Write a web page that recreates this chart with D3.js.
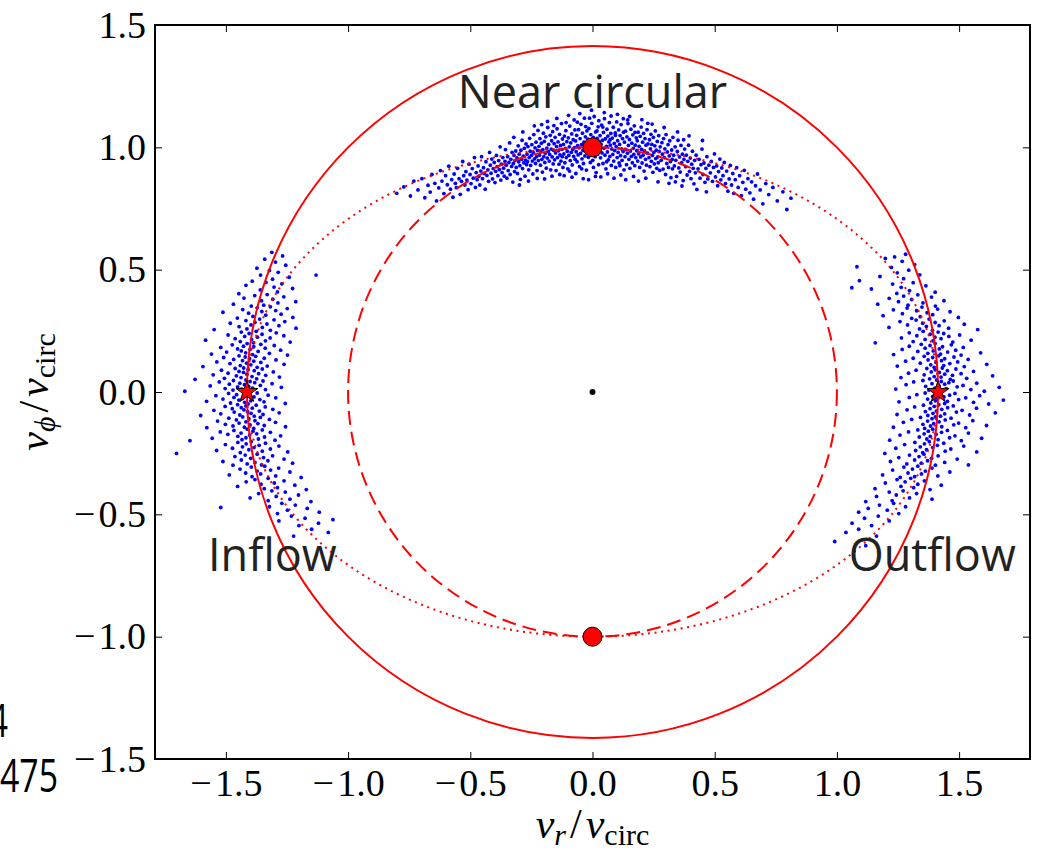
<!DOCTYPE html>
<html>
<head>
<meta charset="utf-8">
<script src="https://cdn.jsdelivr.net/npm/d3@7"></script>
<style>
  body { margin: 0; background: #fff; }
  svg { display: block; }
</style>
</head>
<body>
<svg id="chart"></svg>
<script>
// axis limits and ticks
const xLim = [-1.79, 1.79];
const yLim = [-1.5, 1.5];
const xTicks = [-1.5, -1.0, -0.5, 0.0, 0.5, 1.0, 1.5];
const yTicks = [-1.5, -1.0, -0.5, 0.0, 0.5, 1.0, 1.5];

// reference curves (in units of v_circ)
const solidRadius = 1.414;
const dashedRadius = 1.0;
const dottedRadii = [1.414, 1.0];

// markers
const circleMarkers = [[0, 1], [0, -1]];
const starMarkers = [[-1.414, 0], [1.414, 0]];
const originMarker = [[0, 0]];

// annotations
const annotations = [
  { text: "Near circular", vr: 0.0, vphi: 1.16 },
  { text: "Inflow", vr: -1.31, vphi: -0.73 },
  { text: "Outflow", vr: 1.39, vphi: -0.73 }
];

// particle velocities: near circular orbits
const nearCircularPts = [
  [-0.801,0.812],[-0.772,0.838],[-0.745,0.801],[-0.731,0.862],
  [-0.714,0.826],[-0.698,0.872],[-0.686,0.794],[-0.673,0.845],
  [-0.664,0.817],[-0.657,0.889],[-0.645,0.853],[-0.638,0.781],[-0.629,0.834],[-0.622,0.905],
  [-0.616,0.862],[-0.608,0.811],[-0.601,0.884],[-0.594,0.847],[-0.588,0.923],[-0.581,0.829],[-0.576,0.868],[-0.571,0.796],
  [-0.566,0.891],[-0.561,0.853],[-0.557,0.835],[-0.552,0.914],[-0.546,0.872],[-0.541,0.808],[-0.536,0.861],[-0.531,0.942],[-0.527,0.884],[-0.522,0.846],
  [-0.518,0.901],[-0.514,0.866],[-0.509,0.827],[-0.505,0.931],[-0.501,0.889],[-0.497,0.852],[-0.492,0.913],[-0.488,0.874],[-0.483,0.958],[-0.479,0.836],[-0.476,0.897],[-0.472,0.868],
  [-0.468,0.924],[-0.465,0.881],[-0.461,0.846],[-0.457,0.903],[-0.454,0.962],[-0.450,0.872],[-0.446,0.917],[-0.443,0.893],[-0.439,0.829],[-0.436,0.941],[-0.432,0.885],[-0.428,0.908],[-0.425,0.861],[-0.421,0.979],
  [-0.418,0.927],[-0.415,0.894],[-0.412,0.952],[-0.409,0.871],[-0.406,0.913],[-0.402,0.938],[-0.399,0.856],[-0.396,0.902],[-0.393,0.967],[-0.390,0.921],[-0.387,0.884],[-0.384,0.946],[-0.381,0.909],[-0.378,1.002],[-0.375,0.866],[-0.373,0.931],[-0.370,0.897],
  [-0.367,0.958],[-0.364,0.915],[-0.361,0.882],[-0.358,0.943],[-0.356,0.991],[-0.353,0.927],[-0.350,0.874],[-0.347,0.962],[-0.345,0.905],[-0.342,0.938],[-0.339,1.018],[-0.337,0.889],[-0.334,0.951],[-0.331,0.922],[-0.329,0.979],[-0.326,0.858],[-0.324,0.934],[-0.321,0.967],[-0.319,0.901],[-0.322,1.041],
  [-0.317,0.946],[-0.314,0.985],[-0.312,0.918],[-0.309,0.957],[-0.307,0.893],[-0.304,1.006],[-0.302,0.941],[-0.300,0.972],[-0.297,0.925],[-0.295,0.869],[-0.293,0.988],[-0.290,0.951],[-0.288,1.029],[-0.286,0.913],[-0.283,0.964],[-0.281,0.937],[-0.279,0.996],[-0.276,0.882],[-0.274,0.948],[-0.272,1.014],[-0.270,0.929],[-0.285,1.063],[-0.299,0.846],
  [-0.268,0.972],[-0.266,0.941],[-0.264,1.003],[-0.261,0.908],[-0.259,0.958],[-0.257,1.037],[-0.255,0.984],[-0.253,0.926],[-0.250,0.967],[-0.248,1.011],[-0.246,0.944],[-0.244,0.891],[-0.242,0.979],[-0.240,1.052],[-0.237,0.953],[-0.235,0.998],[-0.233,0.934],[-0.231,1.021],[-0.229,0.962],[-0.227,0.905],[-0.225,0.987],[-0.223,1.069],[-0.221,0.946],[-0.262,0.862],[-0.238,1.088],[-0.226,0.873],
  [-0.219,1.004],[-0.217,0.968],[-0.215,1.036],[-0.213,0.927],[-0.211,0.983],[-0.209,1.017],[-0.207,0.951],[-0.205,0.899],[-0.203,0.991],[-0.201,1.058],[-0.199,0.962],[-0.197,1.024],[-0.195,0.938],[-0.193,0.976],[-0.191,1.043],[-0.189,0.915],[-0.187,0.997],[-0.185,0.956],[-0.183,1.081],[-0.181,0.983],[-0.179,1.012],[-0.177,0.944],[-0.175,0.971],[-0.173,1.049],[-0.171,0.908],[-0.196,0.871],[-0.184,1.106],[-0.208,1.093],
  [-0.169,0.993],[-0.167,1.027],[-0.165,0.961],[-0.163,1.064],[-0.161,0.932],[-0.159,0.988],[-0.157,1.015],[-0.155,0.949],[-0.153,1.041],[-0.151,0.977],[-0.149,0.905],[-0.147,1.003],[-0.145,1.076],[-0.143,0.958],[-0.141,1.022],[-0.139,0.986],[-0.137,0.931],[-0.135,1.053],[-0.133,0.969],[-0.131,1.008],[-0.129,0.944],[-0.127,1.097],[-0.125,0.992],[-0.123,1.034],[-0.121,0.918],[-0.166,0.882],[-0.146,1.118],[-0.134,0.889],[-0.158,1.089],[-0.124,0.962],
  [-0.119,1.012],[-0.117,0.973],[-0.115,1.046],[-0.113,0.937],[-0.111,0.996],[-0.109,1.068],[-0.107,0.958],[-0.105,1.023],[-0.103,0.984],[-0.101,0.912],[-0.099,1.039],[-0.097,0.967],[-0.095,1.002],[-0.093,1.087],[-0.091,0.946],[-0.089,1.018],[-0.087,0.979],[-0.085,1.055],[-0.083,0.928],[-0.081,0.991],[-0.079,1.031],[-0.077,0.963],[-0.075,1.112],[-0.073,0.999],[-0.071,0.951],[-0.116,0.884],[-0.098,1.131],[-0.084,0.878],[-0.108,1.101],[-0.072,1.071],[-0.094,0.903],
  [-0.069,1.026],[-0.067,0.982],[-0.065,1.049],[-0.063,0.941],[-0.061,1.007],[-0.059,0.969],[-0.057,1.072],[-0.055,0.998],[-0.053,0.921],[-0.051,1.036],[-0.049,0.975],[-0.047,1.094],[-0.045,1.011],[-0.043,0.953],[-0.041,1.058],[-0.039,0.987],[-0.037,0.934],[-0.035,1.021],[-0.033,1.119],[-0.031,0.965],[-0.029,1.043],[-0.027,0.996],[-0.025,0.907],[-0.023,1.067],[-0.021,0.978],[-0.068,0.893],[-0.052,1.138],[-0.038,0.872],[-0.062,1.103],[-0.028,1.085],[-0.044,0.912],[-0.024,1.014],
  [-0.019,1.033],[-0.017,0.959],[-0.015,1.077],[-0.013,0.991],[-0.011,1.016],[-0.009,0.938],[-0.007,1.052],[-0.005,0.974],[-0.003,1.098],[-0.001,1.008],[0.001,0.947],[0.003,1.041],[0.005,0.983],[0.007,1.126],[0.009,1.019],[0.011,0.962],[0.013,1.063],[0.015,0.897],[0.017,1.002],[0.019,1.037],[0.021,0.971],[0.023,1.084],[0.025,0.929],[0.027,1.024],[0.029,0.989],[-0.016,0.868],[-0.004,1.152],[0.012,0.881],[0.026,1.109],[-0.012,1.119],[0.004,0.918],[0.018,1.067],
  [0.031,1.048],[0.033,0.957],[0.035,1.013],[0.037,1.091],[0.039,0.977],[0.041,1.029],[0.043,0.934],[0.045,1.061],[0.047,0.996],[0.049,1.117],[0.051,0.968],[0.053,1.035],[0.055,0.912],[0.057,1.004],[0.059,1.074],[0.061,0.981],[0.063,1.046],[0.065,0.949],[0.067,1.022],[0.069,1.101],[0.071,0.963],[0.073,1.009],[0.075,1.057],[0.077,0.926],[0.079,0.993],[0.034,0.879],[0.048,1.142],[0.062,0.892],[0.076,1.128],[0.042,1.083],[0.058,0.941],[0.072,1.031],
  [0.081,1.038],[0.083,0.971],[0.085,1.082],[0.087,0.944],[0.089,1.016],[0.091,0.987],[0.093,1.059],[0.095,0.918],[0.097,1.003],[0.099,1.104],[0.101,0.958],[0.103,1.027],[0.105,0.979],[0.107,1.071],[0.109,0.936],[0.111,1.012],[0.113,1.048],[0.115,0.966],[0.117,1.093],[0.119,0.994],[0.121,0.947],[0.123,1.036],[0.125,0.983],[0.127,1.062],[0.129,0.908],[0.088,0.874],[0.102,1.135],[0.116,0.887],[0.126,1.117],[0.094,1.049],[0.112,0.925],
  [0.131,1.021],[0.133,0.962],[0.135,1.066],[0.137,0.991],[0.139,0.929],[0.141,1.043],[0.143,0.976],[0.145,1.097],[0.147,1.008],[0.149,0.951],[0.151,1.032],[0.153,0.914],[0.155,0.985],[0.157,1.074],[0.159,0.963],[0.161,1.017],[0.163,0.937],[0.165,1.051],[0.167,0.996],[0.169,0.971],[0.171,1.088],[0.173,0.925],[0.175,1.009],[0.177,0.958],[0.179,1.039],[0.136,0.868],[0.152,1.126],[0.168,0.881],[0.144,1.112],[0.174,1.061],
  [0.181,0.986],[0.183,1.027],[0.185,0.944],[0.187,1.062],[0.189,0.973],[0.191,1.004],[0.193,0.918],[0.195,1.045],[0.197,0.961],[0.199,1.083],[0.201,0.992],[0.203,0.936],[0.205,1.021],[0.207,0.968],[0.209,1.057],[0.211,0.903],[0.213,0.984],[0.215,1.036],[0.217,0.951],[0.219,1.009],[0.221,0.927],[0.223,1.072],[0.225,0.976],[0.227,1.014],[0.188,0.862],[0.202,1.113],[0.218,0.874],[0.226,1.098],
  [0.231,0.958],[0.233,1.031],[0.235,0.921],[0.237,0.994],[0.239,1.053],[0.241,0.943],[0.243,1.012],[0.245,0.967],[0.247,0.898],[0.249,1.041],[0.251,0.979],[0.253,0.932],[0.255,1.006],[0.257,1.067],[0.259,0.954],[0.261,0.988],[0.263,0.914],[0.265,1.024],[0.267,0.961],[0.269,0.937],[0.271,1.048],[0.273,0.983],[0.275,0.906],[0.277,1.002],[0.244,1.095],[0.268,0.859],
  [0.281,0.947],[0.284,1.019],[0.286,0.972],[0.289,0.911],[0.291,1.036],[0.294,0.958],[0.296,0.994],[0.299,0.889],[0.301,1.052],[0.304,0.934],[0.306,0.981],[0.309,1.011],[0.311,0.918],[0.314,0.965],[0.316,1.027],[0.319,0.942],[0.321,0.876],[0.324,0.989],[0.326,0.951],[0.329,1.041],[0.293,1.081],[0.313,0.853],[0.327,0.912],
  [0.332,0.968],[0.335,0.924],[0.338,1.002],[0.341,0.947],[0.344,0.881],[0.347,0.983],[0.350,1.029],[0.353,0.916],[0.356,0.961],[0.359,0.899],[0.362,1.008],[0.365,0.937],[0.368,0.972],[0.371,0.864],[0.374,0.951],[0.377,0.993],[0.348,1.063],[0.366,0.842],[0.339,0.859],[0.373,1.031],
  [0.381,0.921],[0.384,0.968],[0.387,0.887],[0.390,0.943],[0.393,1.009],[0.397,0.902],[0.400,0.956],[0.403,0.872],[0.406,0.931],[0.409,0.984],[0.412,0.914],[0.415,0.851],[0.418,0.947],[0.421,0.896],[0.424,0.968],[0.395,1.047],[0.427,0.828],
  [0.432,0.912],[0.436,0.951],[0.440,0.874],[0.444,0.929],[0.448,0.993],[0.452,0.889],[0.456,0.936],[0.460,0.857],[0.464,0.914],[0.468,0.962],[0.472,0.871],[0.476,0.927],[0.450,1.028],[0.466,0.818],
  [0.482,0.896],[0.486,0.942],[0.491,0.861],[0.495,0.918],[0.499,0.973],[0.503,0.879],[0.508,0.924],[0.512,0.843],[0.516,0.901],[0.521,0.952],[0.525,0.867],[0.529,0.916],
  [0.534,0.884],[0.539,0.938],[0.544,0.852],[0.549,0.903],[0.554,0.821],[0.559,0.871],[0.564,0.926],[0.569,0.846],[0.574,0.893],[0.578,0.812],
  [0.584,0.868],[0.590,0.917],[0.596,0.836],[0.602,0.884],[0.609,0.803],[0.615,0.857],[0.621,0.906],[0.627,0.829],
  [0.636,0.872],[0.644,0.814],[0.651,0.859],[0.659,0.788],[0.667,0.843],[0.675,0.891],
  [0.686,0.826],[0.697,0.769],[0.709,0.852],[0.721,0.807],
  [0.738,0.836],[0.756,0.781],[0.779,0.818],[0.795,0.746],[0.812,0.792]
];

// inflow particles
const inflowPts = [
  [-1.312,0.571],[-1.268,0.556],
  [-1.341,0.543],[-1.297,0.531],[-1.255,0.518],[-1.373,0.506],
  [-1.322,0.497],[-1.286,0.489],[-1.358,0.478],[-1.241,0.469],[-1.309,0.461],[-1.392,0.453],
  [-1.336,0.448],[-1.271,0.442],[-1.418,0.436],[-1.303,0.429],[-1.227,0.423],[-1.359,0.417],[-1.289,0.409],[-1.447,0.402],
  [-1.331,0.398],[-1.382,0.394],[-1.263,0.389],[-1.426,0.384],[-1.308,0.379],[-1.354,0.373],[-1.214,0.369],[-1.287,0.364],[-1.469,0.359],[-1.345,0.355],[-1.396,0.351],
  [-1.318,0.348],[-1.372,0.344],[-1.249,0.341],[-1.431,0.337],[-1.296,0.333],[-1.353,0.329],[-1.512,0.326],[-1.407,0.322],[-1.274,0.318],[-1.337,0.314],[-1.389,0.309],[-1.226,0.305],[-1.453,0.302],
  [-1.362,0.298],[-1.303,0.295],[-1.418,0.292],[-1.259,0.288],[-1.381,0.285],[-1.482,0.281],[-1.332,0.278],[-1.397,0.274],[-1.283,0.271],[-1.446,0.267],[-1.351,0.264],[-1.213,0.261],[-1.414,0.258],[-1.548,0.255],[-1.318,0.252],
  [-1.376,0.248],[-1.437,0.245],[-1.294,0.242],[-1.405,0.239],[-1.352,0.236],[-1.491,0.233],[-1.263,0.230],[-1.423,0.227],[-1.371,0.224],[-1.319,0.221],[-1.462,0.218],[-1.395,0.215],[-1.583,0.212],[-1.338,0.209],[-1.441,0.206],[-1.237,0.204],[-1.387,0.201],
  [-1.413,0.198],[-1.357,0.195],[-1.474,0.193],[-1.302,0.190],[-1.428,0.187],[-1.386,0.185],[-1.521,0.182],[-1.339,0.179],[-1.452,0.176],[-1.401,0.174],[-1.276,0.171],[-1.437,0.168],[-1.368,0.166],[-1.497,0.163],[-1.419,0.160],[-1.322,0.158],[-1.559,0.155],[-1.391,0.153],[-1.248,0.151],
  [-1.446,0.148],[-1.378,0.146],[-1.421,0.143],[-1.509,0.141],[-1.343,0.138],[-1.403,0.136],[-1.468,0.133],[-1.295,0.131],[-1.432,0.128],[-1.386,0.126],[-1.537,0.123],[-1.357,0.121],[-1.415,0.118],[-1.483,0.116],[-1.262,0.113],[-1.398,0.111],[-1.441,0.108],[-1.331,0.106],[-1.594,0.104],[-1.372,0.101],
  [-1.427,0.098],[-1.462,0.096],[-1.351,0.094],[-1.409,0.091],[-1.518,0.089],[-1.384,0.087],[-1.446,0.084],[-1.306,0.082],[-1.428,0.080],[-1.491,0.077],[-1.366,0.075],[-1.414,0.073],[-1.552,0.070],[-1.337,0.068],[-1.457,0.066],[-1.393,0.063],[-1.281,0.061],[-1.438,0.059],[-1.506,0.056],[-1.374,0.054],[-1.626,0.052],
  [-1.418,0.049],[-1.469,0.047],[-1.348,0.045],[-1.401,0.043],[-1.527,0.041],[-1.382,0.038],[-1.443,0.036],[-1.311,0.034],[-1.486,0.032],[-1.424,0.030],[-1.359,0.027],[-1.564,0.025],[-1.407,0.023],[-1.452,0.021],[-1.273,0.019],[-1.391,0.016],[-1.503,0.014],[-1.436,0.012],[-1.338,0.010],[-1.471,0.008],[-1.415,0.005],[-1.668,0.003],
  [-1.428,-0.002],[-1.372,-0.004],[-1.489,-0.006],[-1.403,-0.009],[-1.456,-0.011],[-1.327,-0.013],[-1.541,-0.015],[-1.419,-0.018],[-1.385,-0.020],[-1.467,-0.022],[-1.296,-0.024],[-1.432,-0.027],[-1.512,-0.029],[-1.361,-0.031],[-1.447,-0.033],[-1.398,-0.036],[-1.579,-0.038],[-1.344,-0.040],[-1.423,-0.042],[-1.481,-0.045],[-1.257,-0.047],[-1.409,-0.049],
  [-1.452,-0.052],[-1.376,-0.054],[-1.418,-0.057],[-1.503,-0.059],[-1.339,-0.061],[-1.437,-0.064],[-1.392,-0.066],[-1.474,-0.068],[-1.308,-0.071],[-1.426,-0.073],[-1.549,-0.075],[-1.363,-0.078],[-1.411,-0.080],[-1.466,-0.082],[-1.282,-0.085],[-1.397,-0.087],[-1.521,-0.089],[-1.348,-0.092],[-1.443,-0.094],[-1.603,-0.096],[-1.384,-0.099],
  [-1.431,-0.102],[-1.359,-0.104],[-1.488,-0.107],[-1.406,-0.109],[-1.322,-0.112],[-1.457,-0.114],[-1.381,-0.117],[-1.534,-0.119],[-1.418,-0.122],[-1.297,-0.124],[-1.446,-0.127],[-1.369,-0.129],[-1.502,-0.132],[-1.401,-0.134],[-1.343,-0.137],[-1.471,-0.139],[-1.256,-0.142],[-1.424,-0.144],[-1.578,-0.146],[-1.386,-0.149],
  [-1.412,-0.152],[-1.351,-0.155],[-1.467,-0.157],[-1.389,-0.160],[-1.523,-0.163],[-1.318,-0.165],[-1.438,-0.168],[-1.374,-0.171],[-1.492,-0.173],[-1.403,-0.176],[-1.276,-0.179],[-1.451,-0.181],[-1.342,-0.184],[-1.418,-0.187],[-1.556,-0.189],[-1.367,-0.192],[-1.434,-0.195],[-1.299,-0.197],[-1.647,-0.199],
  [-1.396,-0.203],[-1.451,-0.206],[-1.338,-0.209],[-1.417,-0.212],[-1.502,-0.215],[-1.364,-0.218],[-1.283,-0.221],[-1.432,-0.224],[-1.385,-0.227],[-1.473,-0.230],[-1.318,-0.233],[-1.406,-0.236],[-1.538,-0.239],[-1.351,-0.242],[-1.247,-0.245],[-1.441,-0.248],[-1.702,-0.251],
  [-1.372,-0.254],[-1.421,-0.258],[-1.309,-0.261],[-1.463,-0.264],[-1.346,-0.268],[-1.398,-0.271],[-1.262,-0.274],[-1.437,-0.278],[-1.328,-0.281],[-1.512,-0.284],[-1.381,-0.288],[-1.227,-0.291],[-1.413,-0.294],[-1.354,-0.298],[-1.471,-0.299],
  [-1.341,-0.303],[-1.396,-0.307],[-1.284,-0.311],[-1.442,-0.315],[-1.317,-0.319],[-1.372,-0.323],[-1.238,-0.327],[-1.419,-0.331],[-1.358,-0.335],[-1.486,-0.339],[-1.296,-0.343],[-1.393,-0.346],[-1.192,-0.349],
  [-1.327,-0.353],[-1.381,-0.358],[-1.262,-0.363],[-1.417,-0.367],[-1.302,-0.372],[-1.356,-0.377],[-1.218,-0.381],[-1.452,-0.386],[-1.289,-0.391],[-1.343,-0.395],[-1.171,-0.399],
  [-1.312,-0.404],[-1.257,-0.409],[-1.366,-0.415],[-1.203,-0.421],[-1.294,-0.427],[-1.401,-0.433],[-1.238,-0.438],[-1.327,-0.444],[-1.152,-0.448],
  [-1.271,-0.455],[-1.216,-0.462],[-1.322,-0.469],[-1.167,-0.476],[-1.248,-0.483],[-1.118,-0.491],[-1.289,-0.497],
  [-1.232,-0.507],[-1.176,-0.516],[-1.283,-0.527],[-1.121,-0.536],[-1.201,-0.546],
  [-1.149,-0.561],[-1.081,-0.574],[-1.223,-0.589],
  [-1.062,-0.522],[-1.521,-0.472],[-1.131,0.478]
];

// outflow particles
const outflowPts = [
  [1.281,0.563],[1.236,0.552],
  [1.198,0.546],[1.267,0.534],[1.318,0.521],[1.223,0.509],
  [1.294,0.498],[1.247,0.487],[1.339,0.479],[1.176,0.472],[1.273,0.463],[1.092,0.455],
  [1.312,0.447],[1.228,0.441],[1.364,0.434],[1.263,0.428],[1.141,0.421],[1.297,0.414],[1.402,0.408],[1.245,0.403],
  [1.331,0.397],[1.273,0.392],[1.387,0.388],[1.214,0.383],[1.306,0.378],[1.438,0.373],[1.252,0.369],[1.352,0.364],[1.167,0.359],[1.291,0.355],[1.403,0.351],
  [1.348,0.347],[1.287,0.343],[1.412,0.339],[1.231,0.336],[1.326,0.332],[1.463,0.328],[1.369,0.324],[1.268,0.320],[1.392,0.316],[1.189,0.312],[1.341,0.308],[1.497,0.305],[1.306,0.301],
  [1.377,0.298],[1.324,0.294],[1.439,0.291],[1.258,0.288],[1.402,0.284],[1.351,0.281],[1.521,0.277],[1.289,0.274],[1.418,0.271],[1.366,0.268],[1.213,0.264],[1.457,0.261],[1.338,0.258],[1.576,0.255],[1.391,0.252],
  [1.353,0.248],[1.414,0.245],[1.296,0.242],[1.437,0.239],[1.382,0.236],[1.502,0.233],[1.327,0.230],[1.458,0.227],[1.401,0.224],[1.264,0.221],[1.426,0.218],[1.361,0.215],[1.549,0.212],[1.393,0.209],[1.312,0.206],[1.474,0.204],[1.157,0.201],
  [1.402,0.198],[1.345,0.195],[1.468,0.193],[1.381,0.190],[1.296,0.187],[1.432,0.185],[1.517,0.182],[1.361,0.179],[1.419,0.176],[1.267,0.174],[1.486,0.171],[1.394,0.168],[1.331,0.166],[1.453,0.163],[1.588,0.160],[1.372,0.158],[1.424,0.155],[1.232,0.153],[1.508,0.151],
  [1.416,0.148],[1.357,0.146],[1.479,0.143],[1.392,0.141],[1.312,0.138],[1.441,0.136],[1.537,0.133],[1.373,0.131],[1.428,0.128],[1.281,0.126],[1.494,0.123],[1.406,0.121],[1.341,0.118],[1.462,0.116],[1.613,0.113],[1.384,0.111],[1.437,0.108],[1.247,0.106],[1.521,0.104],[1.398,0.101],
  [1.431,0.098],[1.368,0.096],[1.487,0.094],[1.402,0.091],[1.324,0.089],[1.452,0.087],[1.559,0.084],[1.386,0.082],[1.419,0.080],[1.293,0.077],[1.508,0.075],[1.441,0.073],[1.357,0.070],[1.473,0.068],[1.637,0.066],[1.398,0.063],[1.426,0.061],[1.262,0.059],[1.531,0.056],[1.379,0.054],[1.464,0.052],
  [1.408,0.049],[1.352,0.047],[1.476,0.045],[1.427,0.043],[1.314,0.041],[1.458,0.038],[1.572,0.036],[1.389,0.034],[1.441,0.032],[1.283,0.030],[1.516,0.027],[1.418,0.025],[1.363,0.023],[1.492,0.021],[1.664,0.019],[1.401,0.016],[1.447,0.014],[1.241,0.012],[1.548,0.010],[1.376,0.008],[1.433,0.005],[1.603,0.003],
  [1.422,-0.002],[1.361,-0.004],[1.483,-0.006],[1.409,-0.009],[1.327,-0.011],[1.461,-0.013],[1.584,-0.015],[1.392,-0.018],[1.438,-0.020],[1.296,-0.022],[1.527,-0.024],[1.413,-0.027],[1.371,-0.029],[1.498,-0.031],[1.681,-0.033],[1.403,-0.036],[1.452,-0.038],[1.254,-0.040],[1.559,-0.042],[1.384,-0.045],[1.441,-0.047],[1.621,-0.049],
  [1.417,-0.052],[1.354,-0.054],[1.476,-0.057],[1.398,-0.059],[1.318,-0.061],[1.453,-0.064],[1.571,-0.066],[1.381,-0.068],[1.429,-0.071],[1.287,-0.073],[1.512,-0.075],[1.407,-0.078],[1.362,-0.080],[1.489,-0.082],[1.648,-0.085],[1.393,-0.087],[1.441,-0.089],[1.246,-0.092],[1.543,-0.094],[1.372,-0.096],[1.424,-0.099],
  [1.403,-0.102],[1.342,-0.104],[1.467,-0.107],[1.389,-0.109],[1.306,-0.112],[1.443,-0.114],[1.556,-0.117],[1.371,-0.119],[1.418,-0.122],[1.272,-0.124],[1.498,-0.127],[1.396,-0.129],[1.352,-0.132],[1.478,-0.134],[1.612,-0.137],[1.383,-0.139],[1.429,-0.142],[1.231,-0.144],[1.527,-0.146],[1.359,-0.149],
  [1.392,-0.152],[1.331,-0.155],[1.452,-0.157],[1.374,-0.160],[1.293,-0.163],[1.428,-0.165],[1.538,-0.168],[1.357,-0.171],[1.406,-0.173],[1.258,-0.176],[1.483,-0.179],[1.382,-0.181],[1.337,-0.184],[1.461,-0.187],[1.592,-0.189],[1.368,-0.192],[1.414,-0.195],[1.216,-0.197],[1.509,-0.199],
  [1.378,-0.203],[1.319,-0.206],[1.437,-0.209],[1.358,-0.212],[1.277,-0.215],[1.411,-0.218],[1.519,-0.221],[1.341,-0.224],[1.392,-0.227],[1.241,-0.230],[1.466,-0.233],[1.367,-0.236],[1.322,-0.239],[1.443,-0.242],[1.572,-0.245],[1.351,-0.248],[1.196,-0.251],
  [1.356,-0.254],[1.297,-0.258],[1.414,-0.261],[1.336,-0.264],[1.253,-0.268],[1.387,-0.271],[1.492,-0.274],[1.318,-0.278],[1.371,-0.281],[1.219,-0.284],[1.441,-0.288],[1.345,-0.291],[1.286,-0.294],[1.538,-0.298],[1.403,-0.299],
  [1.331,-0.303],[1.274,-0.307],[1.389,-0.311],[1.309,-0.315],[1.228,-0.319],[1.362,-0.323],[1.462,-0.327],[1.291,-0.331],[1.346,-0.335],[1.187,-0.339],[1.413,-0.343],[1.318,-0.346],[1.259,-0.349],
  [1.302,-0.353],[1.246,-0.358],[1.358,-0.363],[1.279,-0.367],[1.198,-0.372],[1.331,-0.377],[1.427,-0.381],[1.262,-0.386],[1.314,-0.391],[1.156,-0.395],[1.381,-0.399],
  [1.271,-0.404],[1.214,-0.409],[1.326,-0.415],[1.243,-0.421],[1.162,-0.427],[1.297,-0.433],[1.389,-0.438],[1.226,-0.444],[1.118,-0.448],
  [1.232,-0.455],[1.174,-0.462],[1.281,-0.469],[1.128,-0.476],[1.206,-0.483],[1.089,-0.491],[1.253,-0.497],
  [1.169,-0.507],[1.113,-0.516],[1.214,-0.527],[1.062,-0.536],[1.142,-0.546],
  [1.089,-0.561],[1.037,-0.574],[1.162,-0.589],
  [1.061,0.426],[0.991,-0.611],[1.118,-0.628],[1.082,0.512]
];

const width = 1038;
const height = 851;
const plot = { left: 155, right: 1030, top: 25, bottom: 759 };

const svg = d3.select("#chart").attr("width", width).attr("height", height);

const x = d3.scaleLinear().domain(xLim).range([plot.left, plot.right]);
const y = d3.scaleLinear().domain(yLim).range([plot.bottom, plot.top]);

const serif = "'Liberation Serif', 'DejaVu Serif', serif";
const sans = "'Open Sans', 'Noto Sans', sans-serif";

function tickLabel(v) {
  const s = Math.abs(v).toFixed(1);
  return v < 0 ? "\u2212\u200a" + s : s;
}

svg.append("defs").append("clipPath").attr("id", "plotclip")
  .append("rect")
  .attr("x", plot.left).attr("y", plot.top)
  .attr("width", plot.right - plot.left).attr("height", plot.bottom - plot.top);

const inner = svg.append("g").attr("clip-path", "url(#plotclip)");

// scatter
const allPts = nearCircularPts.concat(inflowPts, outflowPts);
inner.append("g")
  .selectAll("circle")
  .data(allPts)
  .enter()
  .append("circle")
  .attr("cx", d => x(d[0]))
  .attr("cy", d => y(d[1]))
  .attr("r", 1.9)
  .attr("fill", "#0000ff");

// curves
const cx = x(0), cy = y(0);
inner.append("ellipse")
  .attr("cx", cx).attr("cy", cy)
  .attr("rx", x(solidRadius) - cx).attr("ry", cy - y(solidRadius))
  .attr("fill", "none").attr("stroke", "#ff0000").attr("stroke-width", 2);

inner.append("ellipse")
  .attr("cx", cx).attr("cy", cy)
  .attr("rx", x(dashedRadius) - cx).attr("ry", cy - y(dashedRadius))
  .attr("fill", "none").attr("stroke", "#ff0000").attr("stroke-width", 2)
  .attr("stroke-dasharray", "14,7");

inner.append("ellipse")
  .attr("cx", cx).attr("cy", cy)
  .attr("rx", x(dottedRadii[0]) - cx).attr("ry", cy - y(dottedRadii[1]))
  .attr("fill", "none").attr("stroke", "#ff0000").attr("stroke-width", 2)
  .attr("stroke-dasharray", "2,4.6");

// markers
inner.append("g")
  .selectAll("circle")
  .data(circleMarkers)
  .enter()
  .append("circle")
  .attr("cx", d => x(d[0]))
  .attr("cy", d => y(d[1]))
  .attr("r", 9.5)
  .attr("fill", "#ff0000")
  .attr("stroke", "#000")
  .attr("stroke-width", 1);

inner.append("g")
  .selectAll("path")
  .data(starMarkers)
  .enter()
  .append("path")
  .attr("d", d3.symbol(d3.symbolStar).size(150))
  .attr("transform", d => `translate(${x(d[0])},${y(d[1])})`)
  .attr("fill", "#ff0000")
  .attr("stroke", "#000")
  .attr("stroke-width", 1);

inner.append("g")
  .selectAll("circle")
  .data(originMarker)
  .enter()
  .append("circle")
  .attr("cx", d => x(d[0]))
  .attr("cy", d => y(d[1]))
  .attr("r", 3)
  .attr("fill", "#000");

// annotations
svg.append("g")
  .selectAll("text")
  .data(annotations)
  .enter()
  .append("text")
  .attr("x", d => x(d.vr))
  .attr("y", d => y(d.vphi))
  .attr("text-anchor", "middle")
  .attr("font-family", sans)
  .attr("font-size", "45px")
  .attr("fill", "#222")
  .text(d => d.text);

// axes, ticks pointing inward on all four sides
function styleAxis(g) {
  g.select(".domain").remove();
  g.selectAll(".tick line").attr("stroke", "#000").attr("stroke-width", 1);
  g.selectAll(".tick text")
    .attr("font-family", serif)
    .attr("font-size", "38px")
    .attr("fill", "#000");
}

svg.append("g")
  .attr("transform", `translate(0,${plot.bottom})`)
  .call(d3.axisBottom(x).tickValues(xTicks).tickSize(-7).tickPadding(10).tickFormat(tickLabel))
  .call(styleAxis);

svg.append("g")
  .attr("transform", `translate(0,${plot.top})`)
  .call(d3.axisTop(x).tickValues(xTicks).tickSize(-7).tickFormat(""))
  .call(styleAxis);

svg.append("g")
  .attr("transform", `translate(${plot.left},0)`)
  .call(d3.axisLeft(y).tickValues(yTicks).tickSize(-7).tickPadding(9).tickFormat(tickLabel))
  .call(styleAxis);

svg.append("g")
  .attr("transform", `translate(${plot.right},0)`)
  .call(d3.axisRight(y).tickValues(yTicks).tickSize(-7).tickFormat(""))
  .call(styleAxis);

svg.append("rect")
  .attr("x", plot.left).attr("y", plot.top)
  .attr("width", plot.right - plot.left).attr("height", plot.bottom - plot.top)
  .attr("fill", "none").attr("stroke", "#000").attr("stroke-width", 2);

// axis labels
const xLabel = svg.append("text")
  .attr("x", x(0)).attr("y", 838)
  .attr("text-anchor", "middle")
  .attr("font-family", serif)
  .attr("font-size", "42px");
xLabel.append("tspan").attr("font-style", "italic").text("v");
xLabel.append("tspan").attr("font-style", "italic").attr("font-size", "30px").attr("dy", 7).text("r");
xLabel.append("tspan").attr("dy", -7).attr("dx", 4).text("/");
xLabel.append("tspan").attr("font-style", "italic").attr("dx", 4).text("v");
xLabel.append("tspan").attr("font-size", "30px").attr("dy", 7).text("circ");

const yLabel = svg.append("text")
  .attr("transform", `translate(48,${y(0)}) rotate(-90)`)
  .attr("text-anchor", "middle")
  .attr("font-family", serif)
  .attr("font-size", "42px");
yLabel.append("tspan").attr("font-style", "italic").text("v");
yLabel.append("tspan").attr("font-style", "italic").attr("font-size", "30px").attr("dy", 7).text("\u03d5");
yLabel.append("tspan").attr("dy", -7).attr("dx", 4).text("/");
yLabel.append("tspan").attr("font-style", "italic").attr("dx", 4).text("v");
yLabel.append("tspan").attr("font-size", "30px").attr("dy", 7).text("circ");

// text cut off at the left edge (from a neighbouring panel)
svg.append("text")
  .attr("x", -11).attr("y", 737)
  .attr("font-family", sans)
  .attr("font-size", "46px")
  .attr("textLength", 19)
  .attr("lengthAdjust", "spacingAndGlyphs")
  .attr("fill", "#000")
  .text("4");

svg.append("text")
  .attr("x", 0).attr("y", 792)
  .attr("font-family", sans)
  .attr("font-size", "46px")
  .attr("textLength", 58)
  .attr("lengthAdjust", "spacingAndGlyphs")
  .attr("fill", "#000")
  .text("475");
</script>
</body>
</html>
